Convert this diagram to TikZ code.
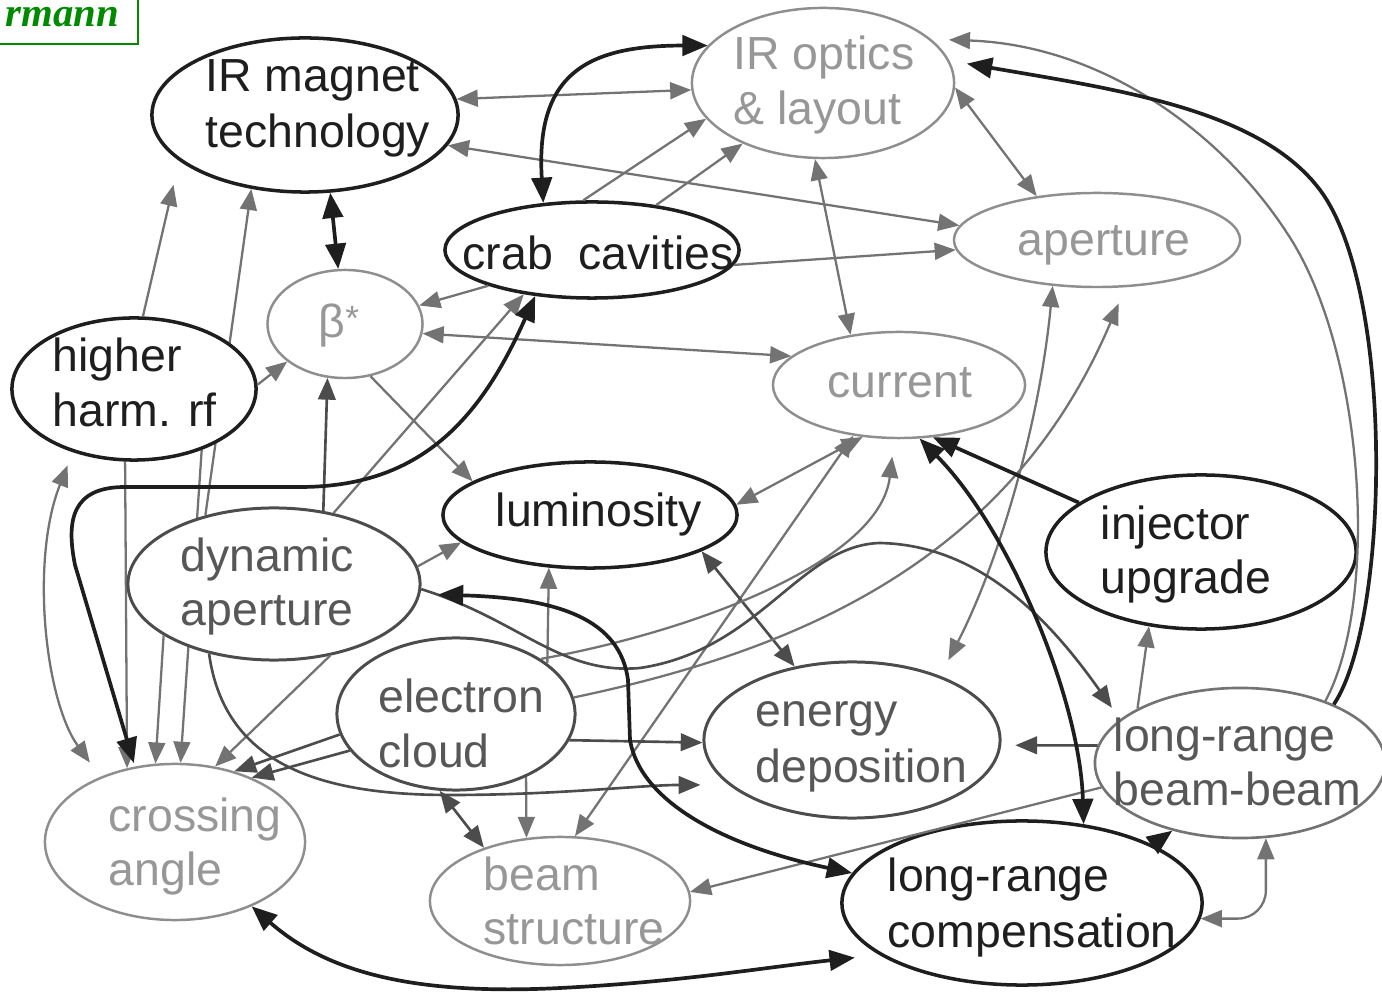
\documentclass[tikz,border=0pt]{standalone}
\usepackage{fontspec}
\setmainfont{Liberation Sans}
\newfontfamily\serifbi{Liberation Serif}
\usetikzlibrary{shapes.geometric,arrows.meta}
\definecolor{ink}{HTML}{1E1E1E}
\definecolor{dk}{HTML}{4C4C4C}
\definecolor{md}{HTML}{737373}
\definecolor{lt}{HTML}{8E8E8E}
\definecolor{txd}{HTML}{575757}
\definecolor{txl}{HTML}{979797}
\definecolor{grn}{HTML}{008A00}
\pgfdeclarelayer{bg}
\pgfsetlayers{bg,main}
\begin{document}
\begin{tikzpicture}[x=0.01cm,y=-0.01cm,
  el/.style={ellipse, inner sep=0pt, fill=white},
  nb/.style={el, draw=ink, line width=1pt},
  nd/.style={el, draw=dk, line width=0.85pt},
  nm/.style={el, draw=md, line width=0.75pt},
  nl/.style={el, draw=lt, line width=0.7pt},
  tx/.style={anchor=base west, inner sep=0pt, font=\fontsize{13.2}{16}\selectfont},
  tb/.style={tx, text=ink}, td/.style={tx, text=txd}, tl/.style={tx, text=txl},
  gl/.style={draw=md, line width=0.65pt},
  dl/.style={draw=dk, line width=0.75pt},
  bl/.style={draw=ink, line width=1.05pt},
  ga/.style={gl, -{Triangle[length=6pt,width=4.8pt]}},
  gaa/.style={gl, {Triangle[length=6pt,width=4.8pt]}-{Triangle[length=6pt,width=4.8pt]}},
  dka/.style={dl, -{Triangle[length=6.2pt,width=5pt]}},
  dkaa/.style={dl, {Triangle[length=6.2pt,width=5pt]}-{Triangle[length=6.2pt,width=5pt]}},
  ba/.style={bl, -{Triangle[length=7.2pt,width=5.8pt]}},
  baa/.style={bl, {Triangle[length=7.2pt,width=5.8pt]}-{Triangle[length=7.2pt,width=5.8pt]}}
]
\useasboundingbox (0,0) rectangle (1382,995);

% corner label
\draw[grn, line width=0.6pt] (-20,-20) rectangle (138,44);
\node[anchor=base east, inner sep=0pt, text=grn, font=\serifbi\fontsize{11.6}{13}\selectfont\bfseries\itshape] (author) at (120,27) {rmann};

% nodes
\node[nb, minimum width=3.06cm, minimum height=1.54cm] (irm) at (305,115) {};
\node[nl, minimum width=2.62cm, minimum height=1.50cm] (iro) at (823,83) {};
\node[nb, minimum width=2.94cm, minimum height=0.96cm] (crab) at (592,250) {};
\node[nl, minimum width=2.86cm, minimum height=0.94cm] (ap) at (1097,240) {};
\node[nl, minimum width=1.55cm, minimum height=1.08cm] (beta) at (345,324) {};
\node[nb, minimum width=2.44cm, minimum height=1.42cm] (hhrf) at (134,389) {};
\node[nl, minimum width=2.52cm, minimum height=1.06cm] (cur) at (899,385) {};
\node[nb, minimum width=2.94cm, minimum height=1.06cm] (lum) at (590,515) {};
\node[nb, minimum width=3.10cm, minimum height=1.54cm] (inj) at (1201,552) {};
\node[nd, minimum width=2.92cm, minimum height=1.52cm] (da) at (274,584) {};
\node[nd, minimum width=2.38cm, minimum height=1.52cm] (ec) at (456,714) {};
\node[nd, minimum width=2.96cm, minimum height=1.56cm] (ed) at (852,740) {};
\node[nm, minimum width=2.90cm, minimum height=1.50cm] (lrbb) at (1240,763) {};
\node[nl, minimum width=2.60cm, minimum height=1.56cm] (ca) at (175,842) {};
\node[nl, minimum width=2.60cm, minimum height=1.28cm] (bs) at (560,901) {};
\node[nb, minimum width=3.60cm, minimum height=1.64cm] (lrc) at (1022,903) {};

% texts
\node[tb] (irmA) at (205,92) {IR magnet};
\node[tb] (irmB) at (205,148) {technology};
\node[tl] (iroA) at (733,70) {IR optics};
\node[tl] (iroB) at (733,125) {\& layout};
\node[tb] (crabA) at (462,270) {crab\ \ cavities};
\node[tl] (apA) at (1017,256) {aperture};
\node[tl] (betaA) at (318,338) {β\raisebox{2pt}{\fontsize{10}{12}\selectfont *}};
\node[tl] (curA) at (827,398) {current};
\node[tb] (hhrfA) at (52,372) {higher};
\node[tb] (hhrfB) at (52,427) {harm. rf};
\node[tb] (lumA) at (495,527) {luminosity};
\node[tb] (injA) at (1100,540) {injector};
\node[tb] (injB) at (1100,594) {upgrade};
\node[td] (daA) at (180,572) {dynamic};
\node[td] (daB) at (180,626) {aperture};
\node[td] (ecA) at (378,713) {electron};
\node[td] (ecB) at (378,768) {cloud};
\node[td] (edA) at (755,727) {energy};
\node[td] (edB) at (755,783) {deposition};
\node[td] (lrbbA) at (1113,752) {long-range};
\node[td] (lrbbB) at (1113,806) {beam-beam};
\node[tl] (caA) at (108,832) {crossing};
\node[tl] (caB) at (108,886) {angle};
\node[tl] (bsA) at (483,890) {beam};
\node[tl] (bsB) at (483,945) {structure};
\node[tb] (lrcA) at (887,892) {long-range};
\node[tb] (lrcB) at (887,947) {compensation};

% connectors hidden behind nodes
\begin{pgfonlayer}{bg}
\draw[ga] (da.135) -- (irm.234);
\draw[ga] (hhrf.318) -- (ca.86);
\draw[ga] (hhrf.263) -- (ca.123);
\end{pgfonlayer}

% gray connectors
\draw[gaa] (irm.6) -- (iro.183);
\draw[gaa] (irm.348) -- (ap.174);
\draw[ga] (crab.100) -- (iro.197);
\draw[ga] (crab.35) -- (iro.217);
\draw[ga] (crab.354) -- (ap.184);
\draw[gaa] (iro.264) -- (cur.134);
\draw[gaa] (iro.358) -- (ap.144);
\draw[ga] (crab.199) -- (beta.14);
\draw[gaa] (beta.353) -- (cur.165);
\draw[ga] (beta.296) -- (lum.164);
\draw[ga, shorten >=7pt] (hhrf.83) -- (irm.200);
\draw[ga] (hhrf.2) -- (beta.213);
\draw[dka] (da.56) -- (beta.252);
\draw[ga] (da.50) -- (crab.213);
\draw[ga] (da.7) -- (lum.192);
\draw[gaa, shorten <=4pt, shorten >=5pt] (hhrf.226) .. controls (30,560) and (45,700) .. (ca.139);
\draw[ga] (da.205) -- (ca.104);
\draw[ga] (da.308) -- (ca.62);
\draw[dka] (ec.190) -- (ca.50);
\draw[dka] (ec.199) -- (ca.40);
\draw[dkaa] (ec.258) -- (bs.145);
\draw[ga] (ec.318) -- (bs.118);
\draw[gaa] (cur.228) -- (bs.77);
\draw[ga] (ec.29) -- (lum.232);
\draw[dkaa] (lum.342) -- (ed.128);
\draw[gaa] (lum.4) -- (cur.235);
\draw[ga, shorten >=5pt] (ec.33) .. controls (700,630) and (880,560) .. (cur.265);
\draw[ga, shorten >=5pt] (ec.8) .. controls (800,650) and (1010,560) .. (ap.301);
\draw[gaa, shorten >=5pt] (ap.226) .. controls (1040,420) and (1000,560) .. (ed.36);
\draw[gaa, rounded corners=8pt] (lrc.355) -| (lrbb.289);
\draw[ga] (lrbb.152) -- (inj.235);
\draw[dka, shorten >=4pt] (lrbb.173) -- (ed.358);
\draw[ga] (lrbb.190) -- (bs.4);
\draw[dka] (ec.347) -- (ed.181);
\draw[dka, shorten >=8pt] (da.227) .. controls (225,770) and (330,795) .. (450,795) .. controls (560,795) and (640,785) .. (ed.200);
\draw[dka, shorten >=4pt] (da.358) .. controls (520,620) and (560,675) .. (640,668) .. controls (760,650) and (800,545) .. (880,543) .. controls (980,545) and (1050,620) .. (lrbb.160);
\draw[ga, shorten >=5pt] (lrbb.36) .. controls (1380,600) and (1365,350) .. (1287,233) .. controls (1220,130) and (1100,45) .. (iro.22);

% black connectors
\draw[baa] (irm.288) -- (beta.97);
\draw[baa] (crab.136) .. controls +(-8,-130) and +(-120,0) .. (iro.162);
\draw[baa, shorten >=1pt] (crab.219) .. controls (480,420) and (420,487) .. (300,487) -- (125,487) .. controls (72,487) and (66,520) .. (75,565) -- (ca.118);
\draw[ba] (inj.158) -- (cur.303);
\draw[baa] (cur.291) .. controls (1010,530) and (1080,700) .. (lrc.52);
\draw[ba] (lrc.24) -- (lrbb.225);
\draw[baa, shorten <=5pt] (da.356) .. controls (560,598) and (620,620) .. (628,680) -- (630,740) .. controls (640,800) and (720,845) .. (lrc.170);
\draw[baa, shorten >=7pt] (ca.320) .. controls (330,975) and (420,995) .. (560,988) .. controls (680,982) and (760,968) .. (lrc.200);
\draw[ba, shorten >=5pt] (lrbb.32) .. controls (1390,620) and (1395,290) .. (1320,190) .. controls (1260,110) and (1120,90) .. (iro.10);
\end{tikzpicture}
\end{document}
